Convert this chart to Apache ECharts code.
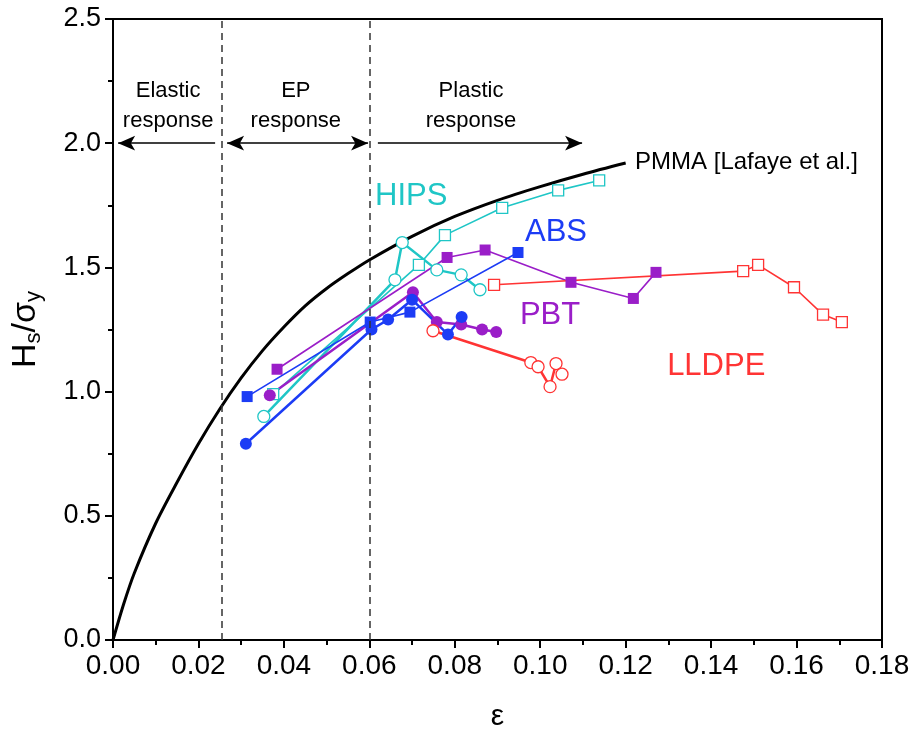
<!DOCTYPE html>
<html>
<head>
<meta charset="utf-8">
<script src="https://cdn.jsdelivr.net/npm/echarts@6/dist/echarts.min.js"></script>
<style>
  html, body { margin: 0; padding: 0; background: #fff; }
  #chart { width: 912px; height: 733px; }
</style>
</head>
<body>
<div id="chart"></div>
<script>
// PMMA reference curve
const pmmaX = [0, 0.0025, 0.005, 0.010, 0.015, 0.020, 0.025, 0.030, 0.035, 0.040, 0.045, 0.050, 0.055, 0.060, 0.070, 0.080, 0.090, 0.100, 0.110, 0.120]
const pmmaY = [0, 0.145, 0.27, 0.47, 0.635, 0.79, 0.93, 1.055, 1.165, 1.26, 1.345, 1.415, 1.475, 1.53, 1.625, 1.705, 1.77, 1.825, 1.875, 1.92]

// HIPS
const hipsSqX = [0.0375, 0.0716, 0.0777, 0.0911, 0.1042, 0.1138]
const hipsSqY = [0.99, 1.51, 1.63, 1.74, 1.81, 1.85]
const hipsCiX = [0.0353, 0.0660, 0.0677, 0.0758, 0.0815, 0.0859]
const hipsCiY = [0.90, 1.45, 1.60, 1.49, 1.47, 1.41]

// ABS
const absSqX = [0.0314, 0.0602, 0.0695, 0.0948]
const absSqY = [0.98, 1.28, 1.32, 1.56]
const absCiX = [0.0311, 0.0605, 0.0644, 0.0700, 0.0784, 0.0816]
const absCiY = [0.79, 1.25, 1.29, 1.37, 1.23, 1.30]

// PBT
const pbtSqX = [0.0384, 0.0782, 0.0871, 0.1072, 0.1218, 0.1271]
const pbtSqY = [1.09, 1.54, 1.57, 1.44, 1.375, 1.48]
const pbtCiX = [0.0367, 0.0702, 0.0758, 0.0815, 0.0864, 0.0897]
const pbtCiY = [0.985, 1.40, 1.28, 1.27, 1.25, 1.24]

// LLDPE
const lldSqX = [0.0892, 0.1475, 0.1510, 0.1594, 0.1662, 0.1706]
const lldSqY = [1.43, 1.485, 1.51, 1.42, 1.31, 1.28]
const lldCiX = [0.0749, 0.0978, 0.0995, 0.1023, 0.1037, 0.1051]
const lldCiY = [1.245, 1.117, 1.10, 1.02, 1.113, 1.07]

// region boundaries and arrows (at H/σ = 2.0)
const boundaryX = [0.0255, 0.06]
const arrowY = 2.0
const arrowFrom = [0.0012, 0.0267, 0.062]
const arrowTo = [0.0239, 0.0597, 0.1098]

// text notes
const noteText = ['Elastic\nresponse', 'EP\nresponse', 'Plastic\nresponse', 'HIPS', 'ABS', 'PBT', 'LLDPE', 'PMMA [Lafaye et al.]']
const noteX = [0.0129, 0.0428, 0.0838, 0.0698, 0.1037, 0.1023, 0.1412, 0.1222]
const noteY = [2.149, 2.149, 2.149, 1.784, 1.641, 1.306, 1.10, 1.923]

const CYAN = '#1fc6c6'
const BLUE = '#1c3cf5'
const PURPLE = '#9a1ec8'
const RED = '#ff3434'
const FONT = '"Liberation Sans", Arial, sans-serif'

const zip = (xs, ys) => xs.map((x, i) => [x, ys[i]])

const pointSeries = (name, xs, ys, color, shape, open, width) => ({
  name,
  type: 'line',
  data: zip(xs, ys),
  symbol: shape,
  symbolSize: shape === 'rect' ? 11 : 12,
  showSymbol: true,
  z: 3,
  lineStyle: { color, width },
  itemStyle: open
    ? { color: '#fff', borderColor: color, borderWidth: 1.3 }
    : { color, borderColor: color, borderWidth: 0 },
  animation: false
})

const noteColors = ['#000', '#000', '#000', CYAN, BLUE, PURPLE, RED, '#000']
const noteSizes = [22, 22, 22, 31, 31, 31, 31, 24]
const notes = noteText.map((t, i) => ({
  name: t,
  value: [noteX[i], noteY[i]],
  label: {
    color: noteColors[i],
    fontSize: noteSizes[i],
    align: i === 7 ? 'left' : 'center'
  }
}))

const noEnd = { symbol: 'none' }
const boundaryLines = boundaryX.map(x => [
  { coord: [x, 0], symbol: 'none', lineStyle: { color: '#333', width: 1.5, type: [7, 5] } },
  { coord: [x, 2.5], symbol: 'none' }
])

const chart = echarts.init(document.getElementById('chart'))
chart.setOption({
  backgroundColor: '#fff',
  animation: false,
  grid: {
    left: 113, right: 30, top: 19, bottom: 93,
    outerBoundsMode: 'none',
    containLabel: false,
    show: true, borderColor: '#000', borderWidth: 2, backgroundColor: 'transparent'
  },
  xAxis: {
    type: 'value',
    min: 0, max: 0.18, interval: 0.02,
    name: 'ε',
    nameLocation: 'middle',
    nameGap: 62,
    nameTextStyle: { fontSize: 30, color: '#000', fontFamily: FONT },
    axisLine: { onZero: false, lineStyle: { color: '#000', width: 2 } },
    axisTick: { length: 8, lineStyle: { color: '#000', width: 2 } },
    minorTick: { show: true, splitNumber: 2, length: 5, lineStyle: { color: '#000', width: 2 } },
    splitLine: { show: false },
    axisLabel: {
      margin: 12,
      fontSize: 28,
      color: '#000',
      fontFamily: '"Liberation Sans Narrow", "Arial Narrow", ' + FONT,
      formatter: v => v.toFixed(2)
    }
  },
  yAxis: {
    type: 'value',
    min: 0, max: 2.5, interval: 0.5,
    name: '{a|H}{s|s}{a|/σ}{s|y}',
    nameLocation: 'middle',
    nameGap: 68,
    nameRotate: 90,
    nameTextStyle: {
      color: '#000',
      fontFamily: FONT,
      rich: {
        a: { fontSize: 34, color: '#000', fontFamily: FONT },
        s: { fontSize: 22, color: '#000', fontFamily: FONT, verticalAlign: 'bottom', padding: [16, 0, 0, 0] }
      }
    },
    axisLine: { onZero: false, lineStyle: { color: '#000', width: 2 } },
    axisTick: { length: 8, lineStyle: { color: '#000', width: 2 } },
    minorTick: { show: true, splitNumber: 2, length: 5, lineStyle: { color: '#000', width: 2 } },
    splitLine: { show: false },
    axisLabel: {
      margin: 12,
      fontSize: 27,
      color: '#000',
      fontFamily: FONT,
      formatter: v => v.toFixed(1)
    }
  },
  series: [
    {
      name: 'PMMA',
      type: 'line',
      data: zip(pmmaX, pmmaY),
      smooth: 0.3,
      showSymbol: false,
      z: 2,
      lineStyle: { color: '#000', width: 3 },
      markLine: {
        silent: true,
        animation: false,
        label: { show: false },
        symbol: ['none', 'none'],
        symbolSize: [11, 17],
        lineStyle: { color: '#000', width: 1.6, type: 'solid' },
        data: [
          ...boundaryLines,
          [
            { coord: [arrowFrom[0], arrowY], symbol: 'arrow' },
            { coord: [arrowTo[0], arrowY], ...noEnd }
          ],
          [
            { coord: [arrowFrom[1], arrowY], symbol: 'arrow' },
            { coord: [arrowTo[1], arrowY], symbol: 'arrow' }
          ],
          [
            { coord: [arrowFrom[2], arrowY], ...noEnd },
            { coord: [arrowTo[2], arrowY], symbol: 'arrow' }
          ]
        ]
      }
    },
    pointSeries('HIPS sq', hipsSqX, hipsSqY, CYAN, 'rect', true, 1.6),
    pointSeries('HIPS ci', hipsCiX, hipsCiY, CYAN, 'circle', true, 2.5),
    pointSeries('PBT sq', pbtSqX, pbtSqY, PURPLE, 'rect', false, 1.6),
    pointSeries('PBT ci', pbtCiX, pbtCiY, PURPLE, 'circle', false, 2.5),
    pointSeries('ABS sq', absSqX, absSqY, BLUE, 'rect', false, 1.6),
    pointSeries('ABS ci', absCiX, absCiY, BLUE, 'circle', false, 2.5),
    pointSeries('LLDPE sq', lldSqX, lldSqY, RED, 'rect', true, 1.6),
    pointSeries('LLDPE ci', lldCiX, lldCiY, RED, 'circle', true, 2.5),
    {
      name: 'notes',
      type: 'scatter',
      data: notes,
      symbolSize: 0,
      z: 5,
      silent: true,
      itemStyle: { opacity: 1 },
      label: {
        show: true,
        position: 'inside',
        formatter: p => p.name,
        fontFamily: FONT,
        lineHeight: 30,
        verticalAlign: 'middle'
      }
    }
  ]
})
</script>
</body>
</html>
